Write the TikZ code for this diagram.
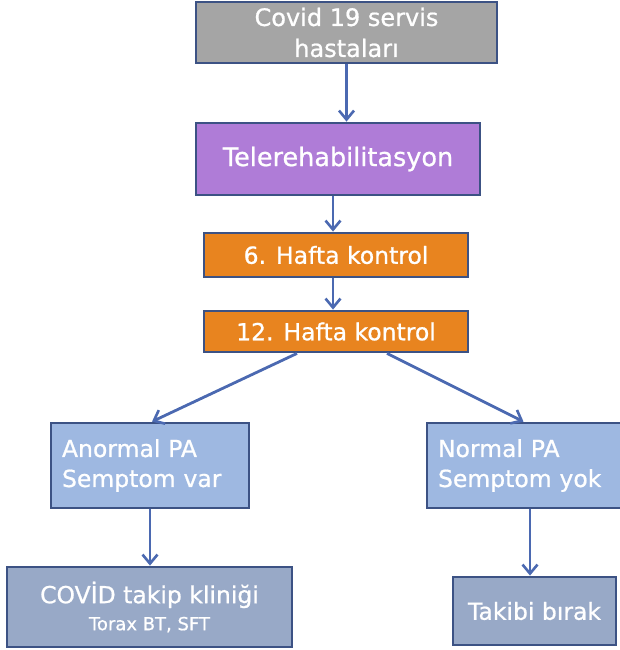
\documentclass[tikz,border=0pt]{standalone}
\usepackage{fontspec}
\setmainfont{DejaVu Sans}[FakeBold=0.8]
\usetikzlibrary{arrows.meta,calc}
\definecolor{bordc}{HTML}{3C5284}
\definecolor{arrc}{HTML}{4B69B1}
\definecolor{grayf}{HTML}{A5A5A5}
\definecolor{purpf}{HTML}{AF7CD7}
\definecolor{orangef}{HTML}{E8841F}
\definecolor{bluef}{HTML}{9EB8E1}
\definecolor{slatef}{HTML}{98A9C7}
\tikzset{
  box/.style={draw=bordc, line width=2.8pt, text=white, inner sep=0pt, align=center},
  conn/.style={draw=arrc, line width=2.8pt, -{Straight Barb[length=9pt,width=15pt,line width=2.6pt]}},
  big/.style={font=\fontsize{24}{31}\selectfont},
}
\begin{document}
\begin{tikzpicture}[x=1pt,y=-1pt]
\useasboundingbox (0,0) rectangle (620,650);
\node[box, big, fill=grayf, minimum width=301, minimum height=61] (b1) at (346.5,32.5) {Covid 19 servis\\hastaları};
\node[box, fill=purpf, minimum width=284, minimum height=72, font=\fontsize{25.5}{31}\selectfont] (b2) at (338,159) {Telerehabilitasyon};
\node[box, fill=orangef, minimum width=264, minimum height=44, font=\fontsize{23.5}{30}\selectfont] (b3) at (336,255) {6. Hafta kontrol};
\node[box, fill=orangef, minimum width=264, minimum height=41, font=\fontsize{23.5}{30}\selectfont] (b4) at (336,331.5) {12. Hafta kontrol};
\node[box, fill=bluef, text width=176, inner xsep=11pt, minimum height=85, align=left, font=\fontsize{23.5}{30}\selectfont] (b5) at (150,465.5) {Anormal PA\\Semptom var};
\node[box, fill=bluef, text width=173, inner xsep=11pt, minimum height=85, align=left, font=\fontsize{23.5}{30}\selectfont] (b6) at (524.5,465.5) {Normal PA\\Semptom yok};
\node[box, fill=slatef, minimum width=285, minimum height=80, font=\fontsize{23.5}{27}\selectfont] (b7) at (149.5,607) {COVİD takip kliniği\\{\fontsize{18}{20}\selectfont Torax BT, SFT}};
\node[box, fill=slatef, minimum width=163, minimum height=68, font=\fontsize{23.5}{30}\selectfont] (b8) at (534.5,611) {Takibi bırak};
\draw[conn] (b1.south) -- (b1.south |- b2.north);
\draw[conn] ([xshift=-3]b3.north |- b2.south) -- ([xshift=-3]b3.north);
\draw[conn] ([xshift=-3]b3.south) -- ([xshift=-3]b4.north);
\draw[conn] ([xshift=-39]b4.south) -- ([xshift=2]b5.north);
\draw[conn] ([xshift=51]b4.south) -- ([xshift=-1]b6.north);
\draw[conn] (b5.south) -- (b5.south |- b7.north);
\draw[conn] ([xshift=-4.5]b8.north |- b6.south) -- ([xshift=-4.5]b8.north);
\end{tikzpicture}
\end{document}
